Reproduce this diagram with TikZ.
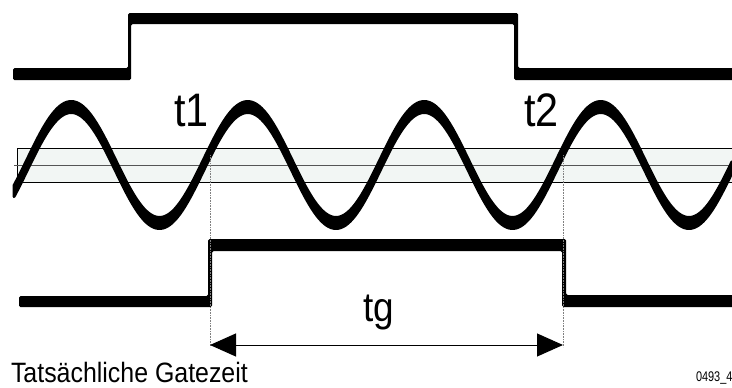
\documentclass[tikz,border=0pt]{standalone}
\usepackage{fontspec}
\setmainfont{Liberation Sans}
\usetikzlibrary{arrows.meta}
\definecolor{bandfill}{HTML}{F2F6F4}
\definecolor{midline}{HTML}{555555}
\tikzset{
  gate/.style={fill=black, rounded corners=1.5pt},
  bandline/.style={line width=0.8pt, draw=black},
  guide/.style={line width=0.6pt, draw=gray, densely dotted},
  dimarrow/.style={line width=1pt, {Triangle[length=26pt,width=23pt]}-{Triangle[length=26pt,width=23pt]}},
  lbl/.style={inner sep=0pt, outer sep=0pt, anchor=base west}
}
\begin{document}
\begin{tikzpicture}[x=1pt,y=-1pt]
\useasboundingbox (0,0) rectangle (732,388);
% band
\fill[bandfill] (17,148) rectangle (732,182);
\draw[bandline] (732,148) -- (17,148) -- (17,182) -- (732,182);
\draw[line width=0.8pt, midline] (14,165) -- (732,165);
% sine wave
\filldraw[line width=3pt, line join=round]
  plot[domain=14:732, samples=300] (\x,{159.5-58*sin(2.03966*(\x-27.1))})
  -- plot[domain=732:14, samples=300] (\x,{170.5-58*sin(2.03966*(\x-27.1))}) -- cycle;
% top gate
\fill[gate] (13,68) -- (128,68) -- (128,13) -- (518,13) -- (518,68) -- (735,68)
  -- (735,80) -- (514,80) -- (514,24) -- (131,24) -- (131,80) -- (13,80) -- cycle;
% bottom gate
\fill[gate] (19,296) -- (208,296) -- (208,239) -- (566,239) -- (566,295) -- (735,295)
  -- (735,307) -- (562,307) -- (562,251) -- (212,251) -- (212,307) -- (19,307) -- cycle;
% guides
\coordinate (g1top) at (210,155);
\coordinate (g1bot) at (210,347);
\coordinate (g2top) at (563,155);
\coordinate (g2bot) at (563,347);
\draw[guide] (g1top) -- (g1bot);
\draw[guide] (g2top) -- (g2bot);
% dimension arrow
\coordinate (a1) at (210,345);
\coordinate (a2) at (563,345);
\draw[dimarrow] (a1) -- (a2);
% labels
\node[lbl, font=\fontsize{47}{47}\selectfont] (t1) at (174,126) {\scalebox{0.88}[1]{t1}};
\node[lbl, font=\fontsize{47}{47}\selectfont] (t2) at (524,126) {\scalebox{0.88}[1]{t2}};
\node[lbl, font=\fontsize{41}{41}\selectfont] (tg) at (363,321) {\scalebox{0.9}[1]{tg}};
\node[lbl, font=\fontsize{28}{28}\selectfont] (cap) at (11,382) {\scalebox{0.89}[1]{Tatsächliche Gatezeit}};
\node[lbl, font=\fontsize{14}{14}\selectfont] (id) at (696,381) {\scalebox{0.78}[1]{0493\_4}};
\end{tikzpicture}
\end{document}
